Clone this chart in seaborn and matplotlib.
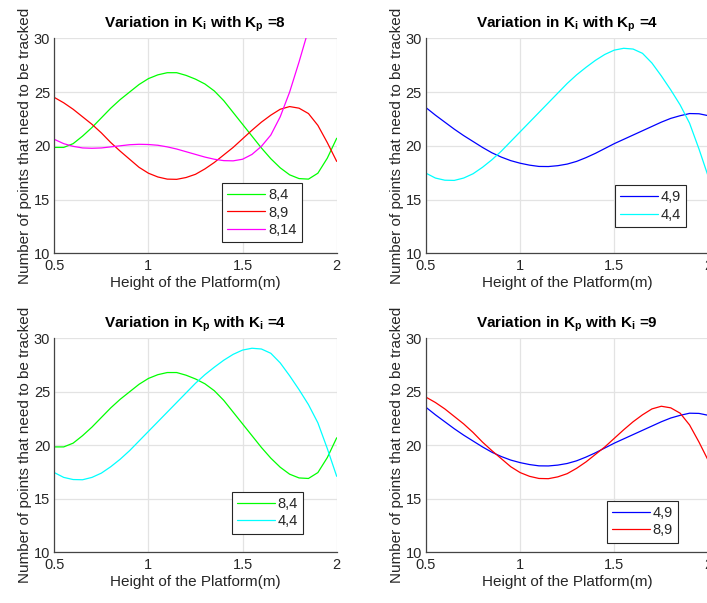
import matplotlib
matplotlib.use("Agg")
import matplotlib.pyplot as plt
import seaborn as sns
import pandas as pd

# ---------------- data ----------------
height = [0.50, 0.55, 0.60, 0.65, 0.70, 0.75, 0.80, 0.85, 0.90, 0.95,
          1.00, 1.05, 1.10, 1.15, 1.20, 1.25, 1.30, 1.35, 1.40, 1.45,
          1.50, 1.55, 1.60, 1.65, 1.70, 1.75, 1.80, 1.85, 1.90, 1.95, 2.00]

pts_8_4 = [19.85, 19.85, 20.2, 20.9, 21.7, 22.6, 23.5, 24.3, 25.0, 25.7,
           26.25, 26.6, 26.8, 26.8, 26.55, 26.2, 25.75, 25.1, 24.2, 23.1,
           22.0, 20.9, 19.8, 18.8, 17.95, 17.3, 16.95, 16.9, 17.45, 18.85, 20.7]

pts_8_9 = [24.5, 24.0, 23.4, 22.7, 22.0, 21.2, 20.3, 19.5, 18.75, 18.0,
           17.45, 17.1, 16.9, 16.88, 17.05, 17.35, 17.85, 18.45, 19.15, 19.85,
           20.65, 21.45, 22.2, 22.85, 23.4, 23.65, 23.5, 23.0, 21.9, 20.3, 18.55]

pts_8_14 = [20.6, 20.2, 19.95, 19.8, 19.77, 19.8, 19.9, 20.0, 20.1, 20.14,
            20.12, 20.05, 19.9, 19.7, 19.45, 19.2, 18.95, 18.75, 18.62, 18.6,
            18.75, 19.2, 19.95, 21.0, 22.7, 25.0, 27.8, 30.8, 35.0]

pts_4_9 = [23.55, 22.85, 22.2, 21.55, 20.95, 20.4, 19.85, 19.35, 18.95, 18.62,
           18.38, 18.2, 18.08, 18.07, 18.15, 18.3, 18.55, 18.9, 19.3, 19.75,
           20.2, 20.6, 21.0, 21.4, 21.8, 22.2, 22.55, 22.8, 23.0, 22.98, 22.8]

pts_4_4 = [17.45, 17.0, 16.8, 16.78, 17.0, 17.4, 18.0, 18.7, 19.5, 20.4,
           21.3, 22.2, 23.1, 24.0, 24.9, 25.8, 26.6, 27.3, 27.95, 28.5,
           28.9, 29.07, 29.0, 28.6, 27.7, 26.5, 25.2, 23.8, 22.1, 19.7, 17.1]

x_ticks = [0.5, 1, 1.5, 2]
x_tick_labels = ["0.5", "1", "1.5", "2"]
y_ticks = [10, 15, 20, 25, 30]
y_tick_labels = ["10", "15", "20", "25", "30"]

titles = [r"Variation in $\mathbf{K_i}$ with $\mathbf{K_p}$ =8",
          r"Variation in $\mathbf{K_i}$ with $\mathbf{K_p}$ =4",
          r"Variation in $\mathbf{K_p}$ with $\mathbf{K_i}$ =4",
          r"Variation in $\mathbf{K_p}$ with $\mathbf{K_i}$ =9"]

series = {
    "8,4": (pts_8_4, "#00ff00"),
    "8,9": (pts_8_9, "#ff0000"),
    "8,14": (pts_8_14, "#ff00ff"),
    "4,9": (pts_4_9, "#0000ff"),
    "4,4": (pts_4_4, "#00ffff"),
}
panel_series = [["8,4", "8,9", "8,14"], ["4,9", "4,4"], ["8,4", "4,4"], ["4,9", "8,9"]]

# ---------------- style ----------------
sns.set_style("white")
plt.rcParams['font.family'] = ['Liberation Sans', 'DejaVu Sans']
plt.rcParams['mathtext.fontset'] = 'custom'
plt.rcParams['mathtext.rm'] = 'Liberation Sans'
plt.rcParams['mathtext.it'] = 'Liberation Sans'
plt.rcParams['mathtext.bf'] = 'Liberation Sans:bold'

W, H = 707, 603
fig = plt.figure(figsize=(W / 100, H / 100), dpi=100)

axw = 282.4 / W
positions = [
    (54.3 / W, 1 - 253.3 / H, axw, 215.0 / H),
    (426.0 / W, 1 - 253.3 / H, axw, 215.0 / H),
    (54.3 / W, 1 - 552.3 / H, axw, 214.0 / H),
    (426.0 / W, 1 - 552.3 / H, axw, 214.0 / H),
]
legend_anchor = [(0.595, 0.328), (0.669, 0.318), (0.628, 0.283), (0.640, 0.241)]

dark = "#262626"
for i in range(4):
    ax = fig.add_axes(positions[i])
    for name in panel_series[i]:
        vals, col = series[name]
        sns.lineplot(x=height[:len(vals)], y=vals, ax=ax, color=col,
                     linewidth=0.9, label=name)
    ax.set_xlim(0.5, 2)
    ax.set_ylim(10, 30)
    ax.set_xticks(x_ticks)
    ax.set_xticklabels(x_tick_labels)
    ax.set_yticks(y_ticks)
    ax.set_yticklabels(y_tick_labels)
    ax.grid(True, color="#e3e3e3", linewidth=0.9)
    ax.set_axisbelow(True)
    for s in ["top", "right"]:
        ax.spines[s].set_visible(False)
    for s in ["left", "bottom"]:
        ax.spines[s].set_color("#444444")
        ax.spines[s].set_linewidth(0.9)
    ax.tick_params(direction="in", length=3, width=0.8, colors=dark,
                   labelsize=10.5, labelcolor=dark)
    ax.tick_params(axis="x", pad=4)
    ax.tick_params(axis="y", pad=3)
    ax.set_xlabel("Height of the Platform(m)", fontsize=11, color=dark, labelpad=2)
    ax.set_ylabel("Number of points that need to be tracked", fontsize=11,
                  color=dark, labelpad=1)
    ax.set_title(titles[i], fontsize=11, fontweight="bold", color="black", pad=8)
    leg = ax.legend(loc="upper left", bbox_to_anchor=legend_anchor[i],
                    borderaxespad=0, fontsize=10.5, frameon=True, fancybox=False,
                    framealpha=1, edgecolor=dark, handlelength=2.6,
                    handletextpad=0.2, borderpad=0.35, labelspacing=0.25)
    leg.get_frame().set_linewidth(0.8)
    for t in leg.get_texts():
        t.set_color(dark)

fig.savefig("out.png", dpi=100, facecolor="white")
